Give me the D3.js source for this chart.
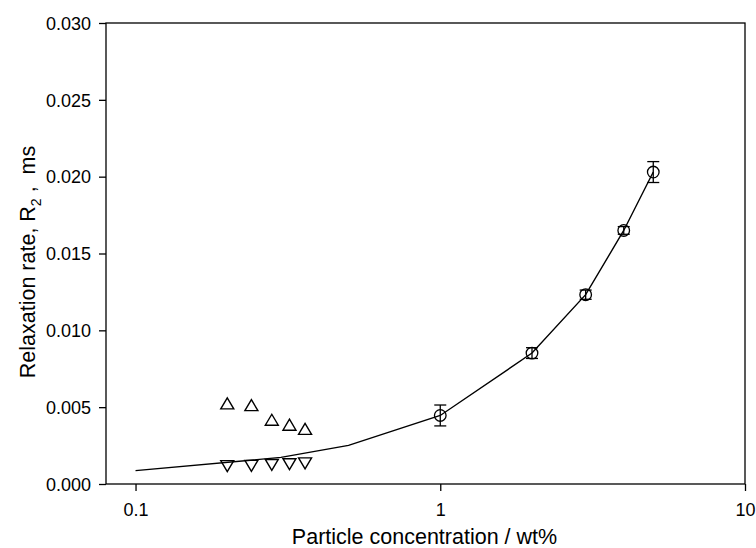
<!DOCTYPE html>
<html>
<head>
<meta charset="utf-8">
<script src="https://cdn.jsdelivr.net/npm/d3@7"></script>
<style>
  body { margin: 0; background: #fff; }
  svg { font-family: Arial, "Liberation Sans", sans-serif; }
</style>
</head>
<body>
<svg id="chart" width="756" height="548"></svg>
<script>
// Relaxation rate vs particle concentration

// circles with error bars
var circX = [1, 2, 3, 4, 5],
    circY = [0.00446, 0.00852, 0.01232, 0.0165, 0.0203],
    circErr = [0.00068, 0.00035, 0.0003, 0.00025, 0.00068];

// up triangles
var upX = [0.2, 0.24, 0.28, 0.32, 0.36],
    upY = [0.00525, 0.00513, 0.00418, 0.00386, 0.00359];

// down triangles
var downX = [0.2, 0.24, 0.28, 0.32, 0.36],
    downY = [0.00116, 0.00118, 0.00124, 0.00129, 0.00134];

// fitted line
var fitX = [0.1, 0.3, 0.5, 1, 2, 3, 4, 5],
    fitY = [0.00087, 0.00173, 0.00251, 0.00446, 0.00852, 0.01232, 0.0165, 0.0203];

var xTicks = [0.1, 1, 10],
    yTicks = [0, 0.005, 0.010, 0.015, 0.020, 0.025, 0.030];

var margin = {top: 23, right: 11, bottom: 64, left: 106},
    width = 756 - margin.left - margin.right,
    height = 548 - margin.top - margin.bottom;

var svg = d3.select('#chart');
var g = svg.append('g')
    .attr('transform', 'translate(' + margin.left + ',' + margin.top + ')');

var x = d3.scaleLog().domain([0.08, 10]).range([0, width]);
var y = d3.scaleLinear().domain([0, 0.03]).range([height, 0]);

// Frame
g.append('rect')
    .attr('width', width)
    .attr('height', height)
    .attr('fill', 'none')
    .attr('stroke', '#000')
    .attr('stroke-width', 1.3);

// Axes
var xAxis = g.append('g')
    .attr('transform', 'translate(0,' + height + ')')
    .call(d3.axisBottom(x).tickValues(xTicks).tickSize(7).tickSizeOuter(0)
        .tickFormat(function(d) { return d >= 1 ? d3.format('d')(d) : String(d); }));

var yAxis = g.append('g')
    .call(d3.axisLeft(y).tickValues(yTicks).tickSize(7).tickSizeOuter(0)
        .tickFormat(d3.format('.3f')));

[xAxis, yAxis].forEach(function(ax) {
  ax.select('.domain').remove();
  ax.selectAll('line').attr('stroke', '#000').attr('stroke-width', 1.3);
  ax.selectAll('text')
      .attr('fill', '#000')
      .style('font-size', '18px')
      .style('font-family', 'Arial, "Liberation Sans", sans-serif');
});
xAxis.selectAll('text').attr('dy', null).attr('y', 32);
yAxis.selectAll('text').attr('x', -15).attr('dy', '0.35em');

// Axis titles
svg.append('text')
    .attr('x', margin.left + width / 2 - 1)
    .attr('y', 544)
    .attr('text-anchor', 'middle')
    .style('font-size', '21.5px')
    .text('Particle concentration / wt%');

var yLab = svg.append('text')
    .attr('transform', 'translate(35,262) rotate(-90)')
    .attr('text-anchor', 'middle')
    .style('font-size', '21.5px');
yLab.append('tspan').text('Relaxation rate, R');
yLab.append('tspan').attr('dy', 6).style('font-size', '14px').text('2');
yLab.append('tspan').attr('dy', -6).text(' ,\u00a0 ms');

// Fit line
var line = d3.line()
    .x(function(d) { return x(d[0]); })
    .y(function(d) { return y(d[1]); });

g.append('path')
    .datum(d3.zip(fitX, fitY))
    .attr('d', line)
    .attr('fill', 'none')
    .attr('stroke', '#000')
    .attr('stroke-width', 1.4);

// Error bars
var capW = 6;
var eb = g.selectAll('g.err')
    .data(d3.zip(circX, circY, circErr))
    .enter().append('g')
    .attr('class', 'err')
    .attr('stroke', '#000')
    .attr('stroke-width', 1.3);

eb.append('line')
    .attr('x1', function(d) { return x(d[0]); })
    .attr('x2', function(d) { return x(d[0]); })
    .attr('y1', function(d) { return y(d[1] - d[2]); })
    .attr('y2', function(d) { return y(d[1] + d[2]); });
eb.append('line')
    .attr('x1', function(d) { return x(d[0]) - capW; })
    .attr('x2', function(d) { return x(d[0]) + capW; })
    .attr('y1', function(d) { return y(d[1] + d[2]); })
    .attr('y2', function(d) { return y(d[1] + d[2]); });
eb.append('line')
    .attr('x1', function(d) { return x(d[0]) - capW; })
    .attr('x2', function(d) { return x(d[0]) + capW; })
    .attr('y1', function(d) { return y(d[1] - d[2]); })
    .attr('y2', function(d) { return y(d[1] - d[2]); });

// Circles
g.selectAll('circle.pt')
    .data(d3.zip(circX, circY))
    .enter().append('circle')
    .attr('class', 'pt')
    .attr('cx', function(d) { return x(d[0]); })
    .attr('cy', function(d) { return y(d[1]); })
    .attr('r', 5.8)
    .attr('fill', 'none')
    .attr('stroke', '#000')
    .attr('stroke-width', 1.3);

// Triangles
var tw = 13, th = 11;
function tri(up) {
  var s = up ? 1 : -1;
  return 'M0,' + (-s * th / 2) + 'L' + (tw / 2) + ',' + (s * th / 2) +
         'L' + (-tw / 2) + ',' + (s * th / 2) + 'Z';
}

g.selectAll('path.up')
    .data(d3.zip(upX, upY))
    .enter().append('path')
    .attr('class', 'up')
    .attr('d', tri(true))
    .attr('transform', function(d) { return 'translate(' + x(d[0]) + ',' + y(d[1]) + ')'; })
    .attr('fill', 'none')
    .attr('stroke', '#000')
    .attr('stroke-width', 1.4);

g.selectAll('path.down')
    .data(d3.zip(downX, downY))
    .enter().append('path')
    .attr('class', 'down')
    .attr('d', tri(false))
    .attr('transform', function(d) { return 'translate(' + x(d[0]) + ',' + y(d[1]) + ')'; })
    .attr('fill', 'none')
    .attr('stroke', '#000')
    .attr('stroke-width', 1.4);
</script>
</body>
</html>
